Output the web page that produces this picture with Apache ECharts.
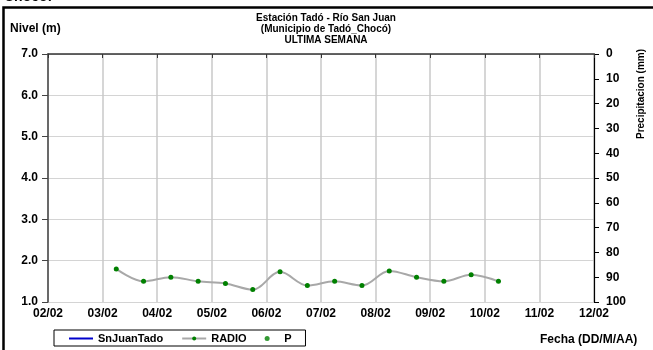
<!DOCTYPE html>
<html>
<head>
<meta charset="utf-8">
<script src="https://cdn.jsdelivr.net/npm/echarts@6/dist/echarts.min.js"></script>
<style>
html,body{margin:0;padding:0;background:#fff;}
#c{width:653px;height:350px;}
</style>
</head>
<body>
<div id="c"></div>
<script>
// ---- data ----
var titleLines = ['Estación Tadó - Río San Juan', '(Municipio de Tadó_Chocó)', 'ULTIMA SEMANA'];
var seriesNames = ['SnJuanTado', 'RADIO', 'P'];
// dates as DD/MM HH:mm
var radioDates = ['03/02 06:00','03/02 18:00','04/02 06:00','04/02 18:00','05/02 06:00','05/02 18:00',
                  '06/02 06:00','06/02 18:00','07/02 06:00','07/02 18:00','08/02 06:00','08/02 18:00',
                  '09/02 06:00','09/02 18:00','10/02 06:00'];
var radioValues = [1.80, 1.50, 1.60, 1.50, 1.45, 1.30, 1.73, 1.40, 1.50, 1.40, 1.75, 1.60, 1.50, 1.66, 1.50];
var snJuanValues = [];
var precipValues = [];
var xTickStart = '02/02 00:00';
var xTickEnd = '12/02 00:00';
var levelTicks = [1, 7, 1];      // min, max, step
var precipTicks = [0, 100, 10];  // min, max, step

function parseDate(s) {
  var p = s.split(' ');
  var dm = p[0].split('/');
  var hm = p[1].split(':');
  return Date.UTC(2000, parseInt(dm[1], 10) - 1, parseInt(dm[0], 10), parseInt(hm[0], 10), parseInt(hm[1], 10));
}
function pad(n) { return (n < 10 ? '0' : '') + n; }

var DAY = 86400000;
var FONT = 'Liberation Sans, Arial, sans-serif';
var radioData = radioDates.map(function (d, i) { return [parseDate(d), radioValues[i]]; });

var chart = echarts.init(document.getElementById('c'), null, { renderer: 'canvas' });
chart.setOption({
  animation: false,
  backgroundColor: '#fff',
  textStyle: { fontFamily: FONT },
  grid: { left: 48, right: 59, top: 54, bottom: 48, containLabel: false, outerBoundsMode: 'none' },
  title: {
    text: titleLines.join('\n'),
    left: 321, top: 8, textAlign: 'center',
    textStyle: { fontFamily: FONT, fontSize: 10, fontWeight: 'bold', color: '#000', lineHeight: 11 }
  },
  legend: {
    data: [
      { name: 'SnJuanTado', itemStyle: { opacity: 0 } },
      { name: 'RADIO' },
      { name: 'P', icon: 'circle' }
    ],
    left: 54, top: 330,
    orient: 'horizontal',
    borderColor: '#000', borderWidth: 1, borderRadius: 0,
    padding: [3, 14, 2, 14],
    itemGap: 18, itemWidth: 24, itemHeight: 5,
    textStyle: { fontFamily: FONT, fontSize: 11, fontWeight: 'bold', color: '#000' }
  },
  xAxis: {
    type: 'value',
    min: parseDate(xTickStart), max: parseDate(xTickEnd), interval: DAY,
    axisLine: { lineStyle: { color: '#333', width: 1.5 } },
    axisTick: { show: true, length: 4, lineStyle: { color: '#333' } },
    axisLabel: {
      margin: 6, color: '#000', fontFamily: FONT, fontSize: 12, fontWeight: 'bold',
      formatter: function (v) { var d = new Date(v); return pad(d.getUTCDate()) + '/' + pad(d.getUTCMonth() + 1); }
    },
    splitLine: { show: true, lineStyle: { color: '#c8c8c8', width: 1.5 } }
  },
  yAxis: [
    {
      type: 'value', min: levelTicks[0], max: levelTicks[1], interval: levelTicks[2],
      axisLine: { show: true, lineStyle: { color: '#444', width: 1.5 } },
      axisTick: { show: true, length: 6, lineStyle: { color: '#444' } },
      axisLabel: { margin: 10, color: '#000', fontFamily: FONT, fontSize: 12, fontWeight: 'bold',
        formatter: function (v) { return v.toFixed(1); } },
      splitLine: { show: true, lineStyle: { color: '#d4d4d4', width: 1 } }
    },
    {
      type: 'value', min: precipTicks[0], max: precipTicks[1], interval: precipTicks[2], inverse: true,
      position: 'right',
      axisLine: { show: true, lineStyle: { color: '#000', width: 1.2 } },
      axisTick: { show: true, length: 5, lineStyle: { color: '#000' } },
      axisLabel: { margin: 12, color: '#000', fontFamily: FONT, fontSize: 12, fontWeight: 'bold' },
      splitLine: { show: false }
    }
  ],
  series: [
    {
      name: 'SnJuanTado', type: 'line', yAxisIndex: 0, data: snJuanValues,
      symbol: 'none', lineStyle: { color: '#0000cc', width: 2 }, itemStyle: { color: '#0000cc' }
    },
    {
      name: 'RADIO', type: 'line', yAxisIndex: 0, data: radioData, smooth: 0.35,
      symbol: 'circle', symbolSize: 5,
      lineStyle: { color: '#a8a8a8', width: 2 },
      itemStyle: { color: '#008000' }
    },
    {
      name: 'P', type: 'scatter', yAxisIndex: 1, data: precipValues,
      symbol: 'circle', symbolSize: 4, itemStyle: { color: '#008000' }
    }
  ],
  graphic: [
    { type: 'rect', shape: { x: 3.5, y: 7.5, width: 720, height: 420 }, style: { fill: 'none', stroke: '#000', lineWidth: 2.5 }, z: 100, silent: true },
    { type: 'text', left: 4, top: -10, style: { text: 'Chocó:', fontFamily: FONT, fontSize: 14, fontWeight: 'bold', fill: '#000' }, z: 100 },
    { type: 'text', left: 10, top: 23, style: { text: 'Nivel (m)', fontFamily: FONT, fontSize: 12, fontWeight: 'bold', fill: '#000' } },
    { type: 'text', x: 641, y: 94, rotation: Math.PI / 2, style: { text: 'Precipitacion (mm)', fontFamily: FONT, fontSize: 10, fontWeight: 'bold', fill: '#000', align: 'center', verticalAlign: 'middle' } },
    { type: 'text', left: 540, top: 334, style: { text: 'Fecha (DD/M/AA)', fontFamily: FONT, fontSize: 12, fontWeight: 'bold', fill: '#000' } }
  ]
});
</script>
</body>
</html>
